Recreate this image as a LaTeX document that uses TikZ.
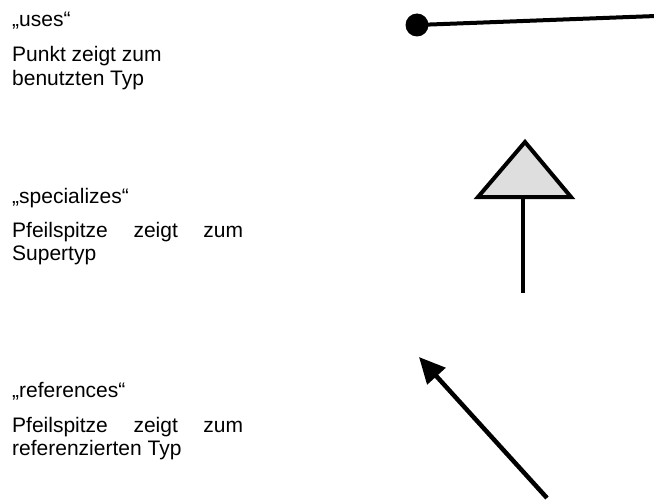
\documentclass[tikz,border=0pt]{standalone}
\usepackage{fontspec}
\setmainfont{Liberation Sans}
\usetikzlibrary{arrows.meta}
\begin{document}
\begin{tikzpicture}[x=1pt,y=-1pt,
  lbl/.style={anchor=base west,inner sep=0pt,font=\fontsize{21}{23}\selectfont},
  conn/.style={line width=4pt,black}]
\useasboundingbox (0,0) rectangle (654,503);

% "uses" legend
\node[lbl] (usesT) at (12,27) {„uses“};
\node[lbl] (usesA) at (12,62) {Punkt zeigt zum};
\node[lbl] (usesB) at (12,85) {benutzten Typ};

% "specializes" legend
\node[lbl] (specT) at (12,203) {„specializes“};
\node[lbl] (specA) at (12,237) {\makebox[231pt][l]{Pfeilspitze\hfill zeigt\hfill zum}};
\node[lbl] (specB) at (12,260) {Supertyp};

% "references" legend
\node[lbl] (refT) at (12,397) {„references“};
\node[lbl] (refA) at (12,432) {\makebox[231pt][l]{Pfeilspitze\hfill zeigt\hfill zum}};
\node[lbl] (refB) at (12,455) {referenzierten Typ};

% uses: line ending in a dot
\node[circle,fill=black,inner sep=0pt,minimum size=23pt] (dot) at (417,25) {};
\coordinate (usesEnd) at (656,16);
\draw[conn] (dot.center) -- (usesEnd);

% specializes: stem with hollow grey triangle
\coordinate (stemBot) at (523,293);
\coordinate (stemTop) at (523,197);
\coordinate (triL) at (478,197);
\coordinate (triR) at (571,197);
\coordinate (triApex) at (525,142);
\draw[conn] (stemBot) -- (stemTop);
\draw[conn,fill=black!13,line join=miter] (triL) -- (triApex) -- (triR) -- cycle;

% references: arrow with filled head
\coordinate (refTail) at (547,498);
\coordinate (refTip) at (419,357);
\draw[line width=4.5pt,-{Triangle[length=26pt,width=24pt]}] (refTail) -- (refTip);
\end{tikzpicture}
\end{document}
